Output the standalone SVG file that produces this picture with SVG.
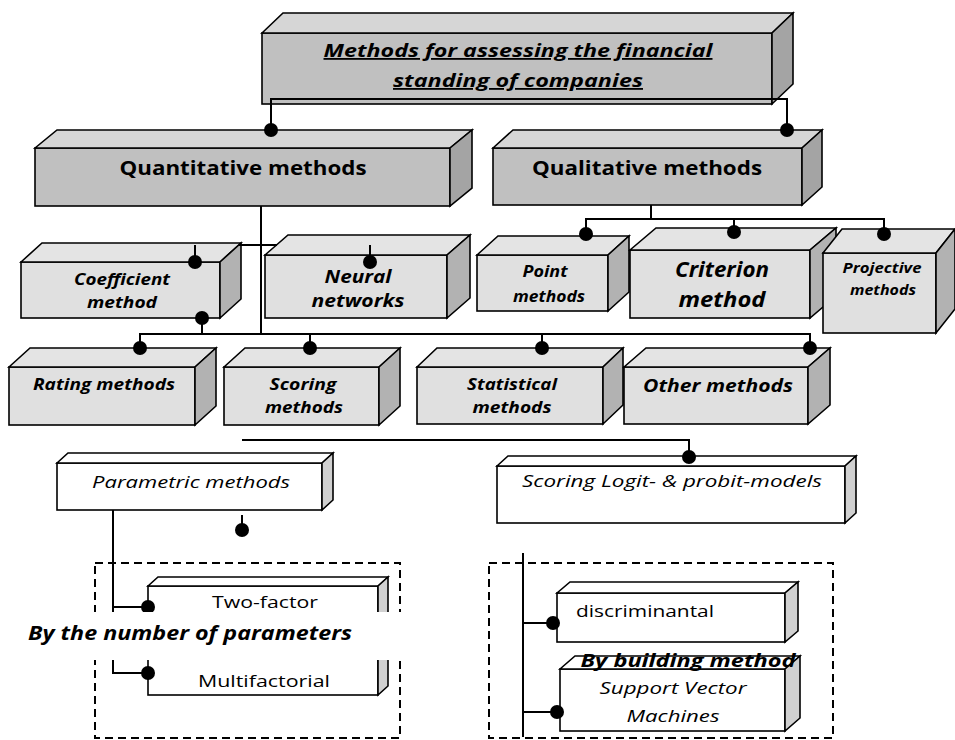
<svg xmlns="http://www.w3.org/2000/svg" width="955" height="740" viewBox="0 0 955 740">
<style>
.b{stroke:#000;stroke-width:1.6;stroke-linejoin:miter}
.fd{fill:#c0c0c0}.td{fill:#d6d6d6}.sd{fill:#a4a4a4}
.fl{fill:#e0e0e0}.tl{fill:#e4e4e4}.sl{fill:#b2b2b2}
.fw{fill:#fff}.sw{fill:#d0d0d0}
.t{font-family:"Open Sans","Liberation Sans",sans-serif;fill:#000;text-anchor:middle}
.bi{font-weight:bold;font-style:italic}
.bo{font-weight:bold}
.it{font-style:italic}
.c{fill:none;stroke:#000;stroke-width:2}
.d{fill:#000}
.dash{fill:none;stroke:#000;stroke-width:2;stroke-dasharray:8 5}
</style>

<g id="groups">
<rect class="dash" x="95" y="563" width="305" height="175"/>
<rect class="dash" x="489" y="563" width="344" height="175"/>
</g>

<g id="title">
<rect class="b fd" x="262" y="33" width="510" height="71"/>
<polygon class="b td" points="262,33 283,13 793,13 772,33"/>
<polygon class="b sd" points="772,33 793,13 793,84 772,104"/>
<text class="t bi" x="518" y="57" font-size="18" text-decoration="underline" textLength="389" lengthAdjust="spacingAndGlyphs">Methods for assessing the financial</text>
<text class="t bi" x="518" y="87" font-size="18" text-decoration="underline" textLength="250" lengthAdjust="spacingAndGlyphs">standing of companies</text>
</g>

<g id="quantitative">
<rect class="b fd" x="35" y="148" width="415" height="58"/>
<polygon class="b td" points="35,148 57,130 472,130 450,148"/>
<polygon class="b sd" points="450,148 472,130 472,188 450,206"/>
<text class="t bo" x="243" y="175" font-size="20" textLength="247" lengthAdjust="spacingAndGlyphs">Quantitative methods</text>
</g>

<g id="qualitative">
<rect class="b fd" x="493" y="148" width="309" height="57"/>
<polygon class="b td" points="493,148 513,130 822,130 802,148"/>
<polygon class="b sd" points="802,148 822,130 822,187 802,205"/>
<text class="t bo" x="647" y="175" font-size="20" textLength="230" lengthAdjust="spacingAndGlyphs">Qualitative methods</text>
</g>

<g id="coefficient">
<rect class="b fl" x="21" y="262" width="199" height="56"/>
<polygon class="b tl" points="21,262 42,243 241,243 220,262"/>
<polygon class="b sl" points="220,262 241,243 241,299 220,318"/>
<text class="t bi" x="122" y="285" font-size="16" textLength="96" lengthAdjust="spacingAndGlyphs">Coefficient</text>
<text class="t bi" x="122" y="308" font-size="16" textLength="70" lengthAdjust="spacingAndGlyphs">method</text>
</g>

<g id="neural">
<rect class="b fl" x="265" y="255" width="182" height="63"/>
<polygon class="b tl" points="265,255 288,235 470,235 447,255"/>
<polygon class="b sl" points="447,255 470,235 470,298 447,318"/>
<text class="t bi" x="358" y="283" font-size="18" textLength="67" lengthAdjust="spacingAndGlyphs">Neural</text>
<text class="t bi" x="358" y="307" font-size="18" textLength="93" lengthAdjust="spacingAndGlyphs">networks</text>
</g>

<g id="point">
<rect class="b fl" x="477" y="255" width="131" height="56"/>
<polygon class="b tl" points="477,255 498,236 629,236 608,255"/>
<polygon class="b sl" points="608,255 629,236 629,292 608,311"/>
<text class="t bi" x="545" y="277" font-size="16" textLength="45" lengthAdjust="spacingAndGlyphs">Point</text>
<text class="t bi" x="549" y="302" font-size="16" textLength="72" lengthAdjust="spacingAndGlyphs">methods</text>
</g>

<g id="criterion">
<rect class="b fl" x="630" y="250" width="180" height="68"/>
<polygon class="b tl" points="630,250 656,228 836,228 810,250"/>
<polygon class="b sl" points="810,250 836,228 836,296 810,318"/>
<text class="t bi" x="722" y="277" font-size="21" textLength="94" lengthAdjust="spacingAndGlyphs">Criterion</text>
<text class="t bi" x="722" y="307" font-size="21" textLength="87" lengthAdjust="spacingAndGlyphs">method</text>
</g>

<g id="projective">
<rect class="b fl" x="823" y="253" width="113" height="80"/>
<polygon class="b tl" points="823,253 842,229 955,229 936,253"/>
<polygon class="b sl" points="936,253 955,229 955,309 936,333"/>
<text class="t bi" x="882" y="273" font-size="14" textLength="79" lengthAdjust="spacingAndGlyphs">Projective</text>
<text class="t bi" x="883" y="295" font-size="14" textLength="66" lengthAdjust="spacingAndGlyphs">methods</text>
</g>

<g id="rating">
<rect class="b fl" x="9" y="367" width="186" height="58"/>
<polygon class="b tl" points="9,367 30,348 216,348 195,367"/>
<polygon class="b sl" points="195,367 216,348 216,406 195,425"/>
<text class="t bi" x="104" y="390" font-size="16" textLength="142" lengthAdjust="spacingAndGlyphs">Rating methods</text>
</g>

<g id="scoring">
<rect class="b fl" x="224" y="367" width="155" height="58"/>
<polygon class="b tl" points="224,367 245,348 400,348 379,367"/>
<polygon class="b sl" points="379,367 400,348 400,406 379,425"/>
<text class="t bi" x="303" y="390" font-size="16" textLength="67" lengthAdjust="spacingAndGlyphs">Scoring</text>
<text class="t bi" x="304" y="413" font-size="16" textLength="78" lengthAdjust="spacingAndGlyphs">methods</text>
</g>

<g id="statistical">
<rect class="b fl" x="417" y="367" width="186" height="57"/>
<polygon class="b tl" points="417,367 437,348 623,348 603,367"/>
<polygon class="b sl" points="603,367 623,348 623,405 603,424"/>
<text class="t bi" x="512" y="390" font-size="16" textLength="90" lengthAdjust="spacingAndGlyphs">Statistical</text>
<text class="t bi" x="512" y="413" font-size="16" textLength="79" lengthAdjust="spacingAndGlyphs">methods</text>
</g>

<g id="other">
<rect class="b fl" x="624" y="367" width="184" height="57"/>
<polygon class="b tl" points="624,367 646,348 830,348 808,367"/>
<polygon class="b sl" points="808,367 830,348 830,405 808,424"/>
<text class="t bi" x="718" y="392" font-size="18" textLength="150" lengthAdjust="spacingAndGlyphs">Other methods</text>
</g>

<g id="parametric">
<rect class="b fw" x="57" y="463" width="265" height="47"/>
<polygon class="b fw" points="57,463 68,453 333,453 322,463"/>
<polygon class="b sw" points="322,463 333,453 333,500 322,510"/>
<text class="t it" x="191" y="488" font-size="17" textLength="198" lengthAdjust="spacingAndGlyphs">Parametric methods</text>
</g>

<g id="logit">
<rect class="b fw" x="497" y="466" width="348" height="57"/>
<polygon class="b fw" points="497,466 508,456 856,456 845,466"/>
<polygon class="b sw" points="845,466 856,456 856,513 845,523"/>
<text class="t it" x="672" y="487" font-size="17" textLength="300" lengthAdjust="spacingAndGlyphs">Scoring Logit- &amp; probit-models</text>
</g>

<g id="two-factor">
<rect class="b fw" x="148" y="586" width="230" height="50"/>
<polygon class="b fw" points="148,586 158,577 388,577 378,586"/>
<polygon class="b sw" points="378,586 388,577 388,627 378,636"/>
<text class="t" x="265" y="608" font-size="17" textLength="106" lengthAdjust="spacingAndGlyphs">Two-factor</text>
</g>

<g id="multifactorial">
<rect class="b fw" x="148" y="645" width="230" height="50"/>
<polygon class="b fw" points="148,645 158,636 388,636 378,645"/>
<polygon class="b sw" points="378,645 388,636 388,686 378,695"/>
<text class="t" x="264" y="687" font-size="17" textLength="132" lengthAdjust="spacingAndGlyphs">Multifactorial</text>
</g>

<g id="discriminantal">
<rect class="b fw" x="557" y="593" width="228" height="49"/>
<polygon class="b fw" points="557,593 570,582 798,582 785,593"/>
<polygon class="b sw" points="785,593 798,582 798,631 785,642"/>
<text class="t" x="576" y="617" font-size="17" text-anchor="start" style="text-anchor:start" textLength="138" lengthAdjust="spacingAndGlyphs">discriminantal</text>
</g>

<g id="svm">
<rect class="b fw" x="560" y="669" width="225" height="62"/>
<polygon class="b fw" points="560,669 575,656 800,656 785,669"/>
<polygon class="b sw" points="785,669 800,656 800,718 785,731"/>
<text class="t it" x="673" y="694" font-size="17" textLength="147" lengthAdjust="spacingAndGlyphs">Support Vector</text>
<text class="t it" x="673" y="722" font-size="17" textLength="93" lengthAdjust="spacingAndGlyphs">Machines</text>
</g>

<g id="connectors">
<path class="c" d="M271,130 V99 H787 V130"/>
<path class="c" d="M651,205 V219 M586,234 V219 H884 V234 M734,219 V232"/>
<path class="c" d="M261,206 V334"/>
<path class="c" d="M239,245 H277 M195,245 V262 M370,245 V262"/>
<path class="c" d="M202,318 V334"/>
<path class="c" d="M140,348 V334 H810 V348 M310,334 V348 M542,334 V348"/>
<path class="c" d="M242,440 H689 V457"/>
<path class="c" d="M113,510 V673 H148 M113,607 H148"/>
<path class="c" d="M242,515 V530"/>
<path class="c" d="M523,553 V737 M523,623 H553 M523,712 H557"/>
<g class="d">
<circle cx="271" cy="130" r="7"/><circle cx="787" cy="130" r="7"/>
<circle cx="586" cy="234" r="7"/><circle cx="734" cy="232" r="7"/><circle cx="884" cy="234" r="7"/>
<circle cx="195" cy="262" r="7"/><circle cx="370" cy="262" r="7"/>
<circle cx="202" cy="318" r="7"/>
<circle cx="140" cy="348" r="7"/><circle cx="310" cy="348" r="7"/><circle cx="542" cy="348" r="7"/><circle cx="810" cy="348" r="7"/>
<circle cx="689" cy="457" r="7"/>
<circle cx="148" cy="607" r="7"/><circle cx="148" cy="673" r="7"/>
<circle cx="242" cy="530" r="7"/>
<circle cx="553" cy="623" r="7"/><circle cx="557" cy="712" r="7"/>
</g>
</g>

<g id="labels">
<rect x="0" y="612" width="410" height="48" fill="#fff"/>
<text class="t bi" x="190" y="640" font-size="19" textLength="324" lengthAdjust="spacingAndGlyphs">By the number of parameters</text>
<text class="t bi" x="688" y="667" font-size="18" textLength="215" lengthAdjust="spacingAndGlyphs">By building method</text>
</g>
</svg>
